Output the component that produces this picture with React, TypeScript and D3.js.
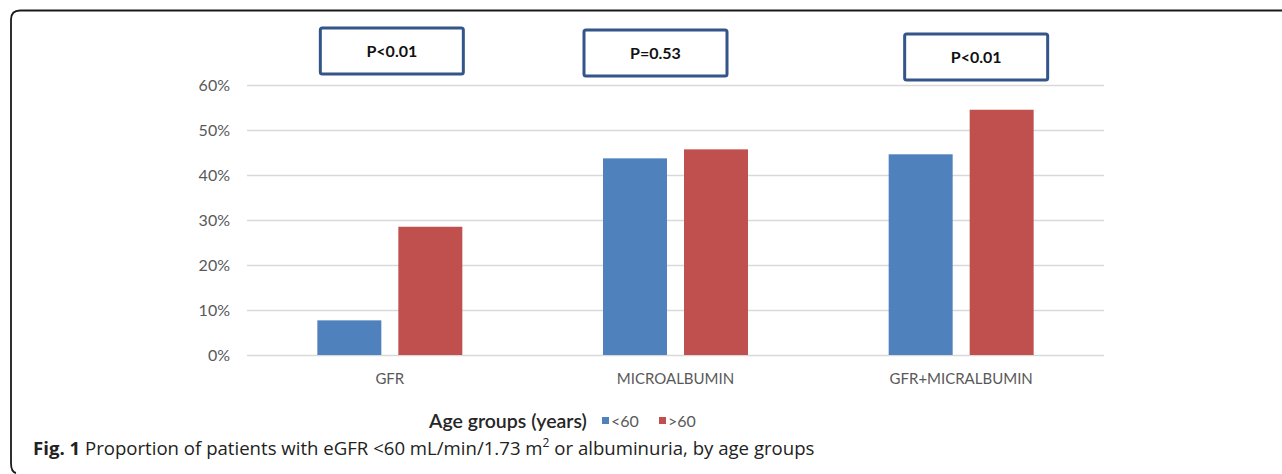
import React, { useEffect, useRef } from 'react';
import * as d3 from 'd3';

const categories = ['GFR', 'MICROALBUMIN', 'GFR+MICRALBUMIN'];
const seriesNames = ['<60', '>60'];
const under60 = [0.077, 0.437, 0.446];
const over60 = [0.285, 0.457, 0.545];
const pValues = ['P<0.01', 'P=0.53', 'P<0.01'];
const yTicks = [0, 0.1, 0.2, 0.3, 0.4, 0.5, 0.6];

const COLORS = ['#4F81BD', '#C0504D'];
const CHART_FONT = 'Lato, "Open Sans", sans-serif';

const App = () => {
  const divRef = useRef<HTMLDivElement>(null);

  useEffect(() => {
    drawChart(divRef);
  }, [divRef]);

  return <div ref={divRef} style={{ position: 'absolute', left: 0, top: 0 }}></div>;
};

function drawChart(divRef: React.RefObject<HTMLDivElement>) {
  const width = 1282,
    height = 474;
  const plot = { left: 247, right: 1104, top: 85, bottom: 355 };

  d3.select(divRef.current).select('svg').remove();

  const svg = d3
    .select(divRef.current)
    .append('svg')
    .attr('width', width)
    .attr('height', height)
    .style('display', 'block')
    .style('background', '#fff');

  // frame around the figure
  svg
    .append('path')
    .attr('d', 'M1282,10.5 H20 Q11,10.5 11,19.5 V463 Q11,472 16,473')
    .attr('fill', 'none')
    .attr('stroke', '#1a1a1a')
    .attr('stroke-width', 1.8);

  const x0 = d3
    .scaleBand<string>()
    .domain(categories)
    .range([plot.left, plot.right])
    .paddingInner(0.4925)
    .paddingOuter(0.24625);
  const x1 = d3.scaleBand<string>().domain(seriesNames).range([0, x0.bandwidth()]).paddingInner(0.21);
  const y = d3.scaleLinear().domain([0, 0.6]).range([plot.bottom, plot.top]);

  // gridlines + y labels
  const yAxis = svg
    .append('g')
    .attr('transform', 'translate(' + plot.left + ',0)')
    .call(
      d3
        .axisLeft(y)
        .tickValues(yTicks)
        .tickSize(-(plot.right - plot.left))
        .tickPadding(17)
        .tickFormat(d3.format('.0%') as any)
    );
  yAxis.select('.domain').remove();
  yAxis.selectAll('.tick line').attr('stroke', '#D9D9D9').attr('stroke-width', 1.6);
  yAxis
    .selectAll('.tick text')
    .attr('fill', '#595959')
    .style('font-family', CHART_FONT)
    .style('font-size', '16px');

  // bars
  const rows = categories.map((c, i) => ({ cat: c, values: [under60[i], over60[i]] }));
  const groups = svg
    .append('g')
    .selectAll('g')
    .data(rows)
    .join('g')
    .attr('transform', (d) => 'translate(' + x0(d.cat) + ',0)');
  groups
    .selectAll('rect')
    .data((d) => d.values.map((v, j) => ({ name: seriesNames[j], v, j })))
    .join('rect')
    .attr('x', (d) => x1(d.name) as number)
    .attr('width', x1.bandwidth())
    .attr('y', (d) => y(d.v))
    .attr('height', (d) => y(0) - y(d.v))
    .attr('fill', (d) => COLORS[d.j]);

  // category labels
  const xAxis = svg
    .append('g')
    .attr('transform', 'translate(0,' + plot.bottom + ')')
    .call(d3.axisBottom(x0).tickSize(0).tickPadding(18));
  xAxis.select('.domain').remove();
  xAxis
    .selectAll('.tick text')
    .attr('fill', '#595959')
    .style('font-family', CHART_FONT)
    .style('font-size', '15px');

  // p-value boxes
  const boxShift = [2, -20, 15];
  const boxTop = [28, 30, 34];
  const boxW = 143,
    boxH = 46;
  const boxes = svg
    .append('g')
    .selectAll('g')
    .data(pValues)
    .join('g')
    .attr('transform', (d, i) => {
      const cx = (x0(categories[i]) as number) + x0.bandwidth() / 2 + boxShift[i];
      return 'translate(' + (cx - boxW / 2) + ',' + boxTop[i] + ')';
    });
  boxes
    .append('rect')
    .attr('width', boxW)
    .attr('height', boxH)
    .attr('rx', 2)
    .attr('fill', '#fff')
    .attr('stroke', '#34558A')
    .attr('stroke-width', 3);
  boxes
    .append('text')
    .attr('x', boxW / 2)
    .attr('y', boxH / 2 + 6)
    .attr('text-anchor', 'middle')
    .style('font-family', CHART_FONT)
    .style('font-size', '16px')
    .style('font-weight', 'bold')
    .attr('fill', '#111')
    .text((d) => d);

  // legend
  const legend = svg.append('g').attr('transform', 'translate(429,428)');
  legend
    .append('text')
    .style('font-family', CHART_FONT)
    .style('font-size', '19.5px')
    .style('font-weight', 600)
    .attr('fill', '#262626')
    .text('Age groups (years)');
  const legendX = [173, 230];
  seriesNames.forEach((name, i) => {
    legend
      .append('rect')
      .attr('x', legendX[i])
      .attr('y', -11)
      .attr('width', 7)
      .attr('height', 7)
      .attr('fill', COLORS[i]);
    legend
      .append('text')
      .attr('x', legendX[i] + 9)
      .attr('y', -1)
      .style('font-family', CHART_FONT)
      .style('font-size', '16px')
      .attr('fill', '#595959')
      .text(name);
  });

  // caption
  const caption = svg
    .append('text')
    .attr('x', 33)
    .attr('y', 455)
    .style('font-family', '"Open Sans", sans-serif')
    .style('font-size', '18.6px')
    .attr('fill', '#222');
  caption.append('tspan').style('font-weight', 'bold').text('Fig. 1');
  caption.append('tspan').text(' Proportion of patients with eGFR <60 mL/min/1.73 m');
  caption.append('tspan').attr('dy', -8).style('font-size', '12px').text('2');
  caption.append('tspan').attr('dy', 8).text(' or albuminuria, by age groups');
}

export default App;
